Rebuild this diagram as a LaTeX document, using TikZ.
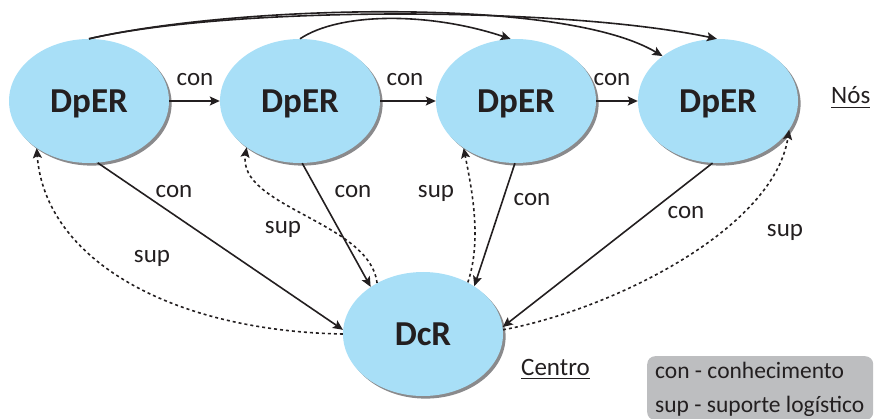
\documentclass[tikz,border=0pt]{standalone}
\usepackage{fontspec}
\setmainfont{Carlito}
\usetikzlibrary{arrows.meta,shapes.geometric,shadows}
\definecolor{ellfill}{HTML}{A8DFF7}
\definecolor{shadowgray}{HTML}{8A8A8C}
\definecolor{ink}{HTML}{231F20}
\definecolor{legendgray}{HTML}{BDBEC0}
\newcommand\myul[1]{\setbox0\hbox{#1}\rlap{\rule[-4.2pt]{\wd0}{1.3pt}}\box0}
\begin{document}
\begin{tikzpicture}[x=1pt,y=-1pt,
  ell/.style={ellipse, fill=ellfill, minimum width=160pt, minimum height=124pt,
    inner sep=0pt, font=\fontsize{35}{40}\selectfont\bfseries, text=ink,
    text height=23pt, text depth=0pt,
    drop shadow={shadow xshift=2.6pt, shadow yshift=-2.6pt, fill=shadowgray, opacity=1}},
  con/.style={draw=ink, line width=1.6pt, -{Stealth[length=10pt,width=9pt,inset=2pt]}},
  sup/.style={con, dash pattern=on 3pt off 3pt},
  lbl/.style={font=\fontsize{25}{30}\selectfont, text=ink, inner sep=0pt, anchor=base},
  legtxt/.style={font=\fontsize{23.5}{28}\selectfont, text=ink, inner sep=0pt, anchor=base west},
  legendbox/.style={fill=legendgray, rounded corners=8pt, inner sep=0pt}
]
\useasboundingbox (0,0) rectangle (874,419);

% nodes
\node[ell] (E1) at (89,101) {DpER};
\node[ell] (E2) at (300,101) {DpER};
\node[ell] (E3) at (516,101) {DpER};
\node[ell] (E4) at (718,101) {DpER};
\node[ell] (C) at (423,334) {DcR};

% horizontal con arrows
\draw[con] (E1.east) -- (E2.west);
\draw[con] (E2.east) -- (E3.west);
\draw[con] (E3.east) -- (E4.west);
\node[lbl] (l12) at (195,86) {con};
\node[lbl] (l23) at (405,86) {con};
\node[lbl] (l34) at (612,86) {con};

% top curves
\draw[con] (E1.north) .. controls (230,6) and (560,6) .. (E4.91);
\draw[con] (E1.north) .. controls (230,6) and (560,-5) .. (E4.141);
\draw[con] (E2.north) .. controls (340,12) and (430,12) .. (E3.95);

% diagonal con arrows to centre
\draw[con] (E1.-82) -- (C.177);
\draw[con] (E2.-88) -- (C.138);
\draw[con] (E3.-91) -- (C.43);
\draw[con] (E4.-95) -- (C.5);
\node[lbl] (d1) at (174,198) {con};
\node[lbl] (d2) at (353,198) {con};
\node[lbl] (d3) at (532,206) {con};
\node[lbl] (d4) at (686,219) {con};

% dotted sup arrows from centre
\draw[sup] (C.180) .. controls (172,331) and (45,260) .. (E1.222);
\draw[sup] (C.132) .. controls (370,222) and (237,207) .. (E2.221);
\draw[sup] (C.49) .. controls (482,240) and (472,190) .. (E3.222);
\draw[sup] (C.3) .. controls (610,310) and (774,230) .. (E4.-22);
\node[lbl] (s1) at (152,262) {sup};
\node[lbl] (s2) at (283,234) {sup};
\node[lbl] (s3) at (436,198) {sup};
\node[lbl] (s4) at (785,237) {sup};

% side labels
\node[lbl, anchor=base west] (nos) at (831,104) {\myul{Nós}};
\node[lbl, anchor=base west] (centro) at (521,375) {\myul{Centro}};

% legend
\node[legendbox, anchor=north west, minimum width=226pt, minimum height=64pt] (legend) at (647,356) {};
\node[legtxt] (leg1) at (655,378) {con - conhecimento};
\node[legtxt] (leg2) at (655,412) {sup - suporte logístico};
\end{tikzpicture}
\end{document}
